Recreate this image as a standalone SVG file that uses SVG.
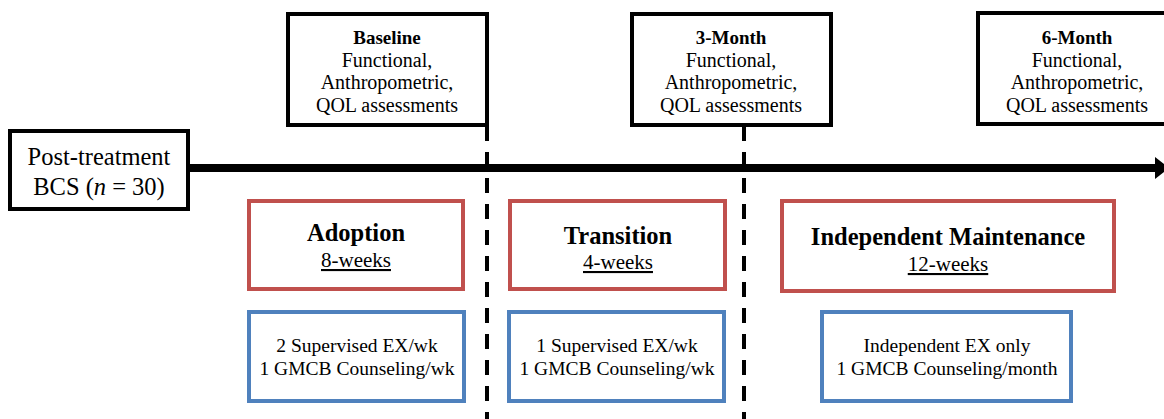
<svg xmlns="http://www.w3.org/2000/svg" width="1164" height="419" viewBox="0 0 1164 419">
<style>
text{font-family:"Liberation Serif","Times New Roman",serif;fill:#000;text-anchor:middle}
.blk{fill:#fff;stroke:#000;stroke-width:4}
.red{fill:#fff;stroke:#C0504D;stroke-width:4}
.blue{fill:#fff;stroke:#4F81BD;stroke-width:4}
.hd{font-weight:bold;font-size:19px}
.tx{font-size:20px}
.ph{font-weight:bold;font-size:24.5px}
.wk{font-size:21px;text-decoration:underline}
.bl{font-size:19.5px}
.dash{stroke:#000;stroke-width:4;stroke-dasharray:15 11;fill:none}
</style>
<defs>
<marker id="ah" markerUnits="userSpaceOnUse" markerWidth="14" markerHeight="22" refX="0" refY="11" orient="auto">
<path d="M0,0 L14,11 L0,22 Z" fill="#000"/>
</marker>
</defs>
<g id="connectors">
<line class="dash" x1="487" y1="126" x2="487" y2="419"/>
<line class="dash" x1="744" y1="126" x2="744" y2="419"/>
<line x1="189" y1="168" x2="1155" y2="168" stroke="#000" stroke-width="8" marker-end="url(#ah)"/>
</g>
<g id="post-treatment">
<rect class="blk" x="10" y="131" width="178" height="78" stroke-width="3.5"/>
<text x="99" y="165" font-size="24.5">Post-treatment</text>
<text x="99" y="195" font-size="24.5">BCS (<tspan font-style="italic">n</tspan> = 30)</text>
</g>
<g id="baseline">
<rect class="blk" x="288" y="14" width="199" height="111"/>
<text class="hd" x="387" y="44">Baseline</text>
<text class="tx" x="387" y="67">Functional,</text>
<text class="tx" x="387" y="89">Anthropometric,</text>
<text class="tx" x="387" y="112">QOL assessments</text>
</g>
<g id="month3">
<rect class="blk" x="632" y="14" width="199" height="111"/>
<text class="hd" x="731" y="44">3-Month</text>
<text class="tx" x="731" y="67">Functional,</text>
<text class="tx" x="731" y="89">Anthropometric,</text>
<text class="tx" x="731" y="112">QOL assessments</text>
</g>
<g id="month6">
<rect class="blk" x="978" y="13" width="200" height="111"/>
<text class="hd" x="1077" y="44">6-Month</text>
<text class="tx" x="1077" y="67">Functional,</text>
<text class="tx" x="1077" y="89">Anthropometric,</text>
<text class="tx" x="1077" y="112">QOL assessments</text>
</g>
<g id="adoption">
<rect class="red" x="249" y="201" width="214" height="88"/>
<text class="ph" x="356" y="241">Adoption</text>
<text class="wk" x="356" y="267">8-weeks</text>
</g>
<g id="transition">
<rect class="red" x="510" y="201" width="215" height="88"/>
<text class="ph" x="618" y="244">Transition</text>
<text class="wk" x="618" y="269">4-weeks</text>
</g>
<g id="maintenance">
<rect class="red" x="782" y="201" width="332" height="90"/>
<text class="ph" x="948" y="245">Independent Maintenance</text>
<text class="wk" x="948" y="271">12-weeks</text>
</g>
<g id="adoption-detail">
<rect class="blue" x="249" y="312" width="215" height="89"/>
<text class="bl" x="357" y="352">2 Supervised EX/wk</text>
<text class="bl" x="357" y="375">1 GMCB Counseling/wk</text>
</g>
<g id="transition-detail">
<rect class="blue" x="509" y="312" width="215" height="89"/>
<text class="bl" x="617" y="352">1 Supervised EX/wk</text>
<text class="bl" x="617" y="375">1 GMCB Counseling/wk</text>
</g>
<g id="maintenance-detail">
<rect class="blue" x="822" y="312" width="249" height="89"/>
<text class="bl" x="947" y="352">Independent EX only</text>
<text class="bl" x="947" y="375">1 GMCB Counseling/month</text>
</g>
</svg>
